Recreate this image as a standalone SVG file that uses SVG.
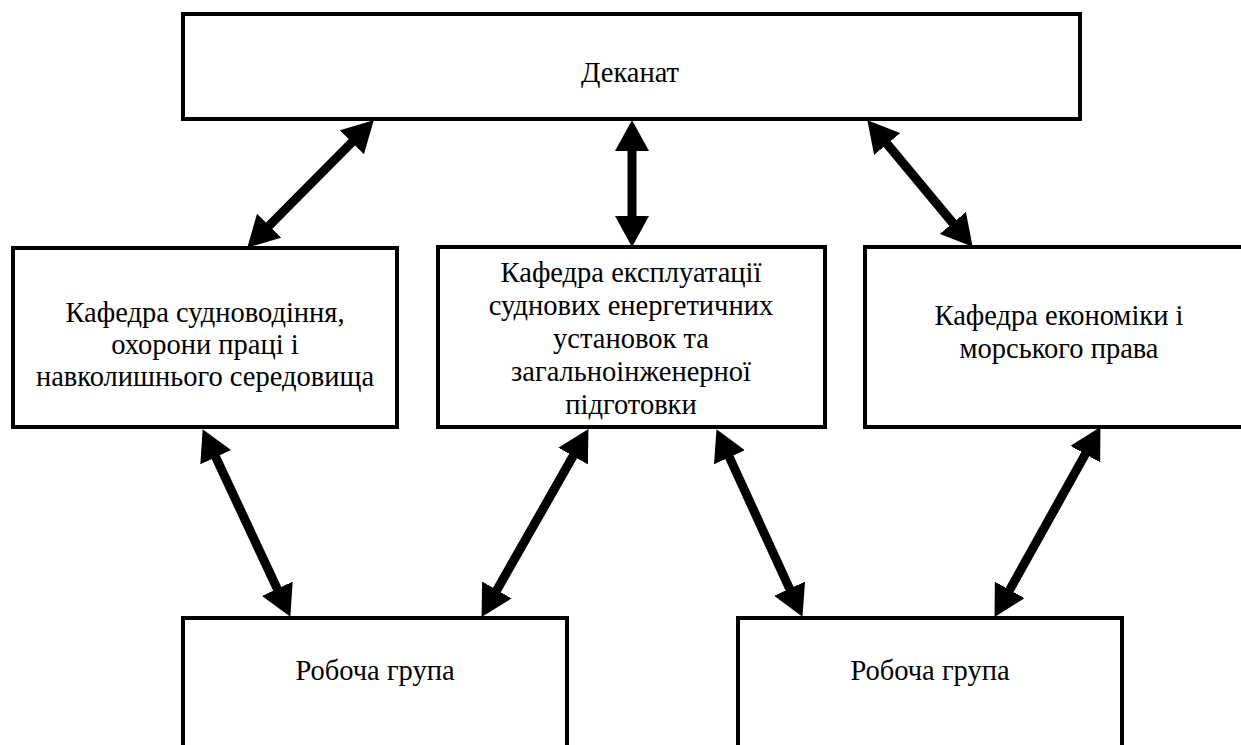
<svg xmlns="http://www.w3.org/2000/svg" width="1241" height="745" viewBox="0 0 1241 745">
<style>
.box{fill:#fff;stroke:#000;stroke-width:4}
.t{font-family:'Liberation Serif','Times New Roman',serif;font-size:28.5px;fill:#000;text-anchor:middle}
.c{stroke:#000;stroke-width:9;fill:none;marker-start:url(#ah);marker-end:url(#ah)}
</style>
<defs>
<marker id="ah" viewBox="0 0 31 34" refX="2" refY="17" markerWidth="31" markerHeight="34" markerUnits="userSpaceOnUse" orient="auto-start-reverse">
<path d="M0,0 L31,17 L0,34 z" fill="#000"/>
</marker>
</defs>
<rect width="1241" height="745" fill="#fff"/>
<g id="dekanat">
<rect class="box" x="183" y="14" width="897" height="105"/>
<text class="t" x="630" y="82">Деканат</text>
</g>
<g id="kaf1">
<rect class="box" x="13" y="248" width="384" height="179"/>
<text class="t" x="205" y="322">Кафедра судноводіння,</text>
<text class="t" x="205" y="354">охорони праці і</text>
<text class="t" x="205" y="386">навколишнього середовища</text>
</g>
<g id="kaf2">
<rect class="box" x="438" y="247" width="387" height="180"/>
<text class="t" x="631" y="282">Кафедра експлуатації</text>
<text class="t" x="631" y="315">суднових енергетичних</text>
<text class="t" x="631" y="348">установок та</text>
<text class="t" x="631" y="381">загальноінженерної</text>
<text class="t" x="631" y="414">підготовки</text>
</g>
<g id="kaf3">
<rect class="box" x="865" y="247" width="388" height="180"/>
<text class="t" x="1059" y="325">Кафедра економіки і</text>
<text class="t" x="1059" y="358">морського права</text>
</g>
<g id="group1">
<rect class="box" x="183" y="618" width="384" height="150"/>
<text class="t" x="375" y="680">Робоча група</text>
</g>
<g id="group2">
<rect class="box" x="738" y="618" width="384" height="150"/>
<text class="t" x="930" y="680">Робоча група</text>
</g>
<g id="connectors">
<path class="c" d="M353.3,140.9 L267.7,227.1"/>
<path class="c" d="M632,149 L632,218"/>
<path class="c" d="M885.9,142.5 L954.1,224.5"/>
<path class="c" d="M214.9,455.4 L278.1,590.6"/>
<path class="c" d="M574.1,454.3 L495.9,591.7"/>
<path class="c" d="M728.6,455.5 L790.4,590.5"/>
<path class="c" d="M1086.3,452.4 L1008.7,591.6"/>
</g>
</svg>
